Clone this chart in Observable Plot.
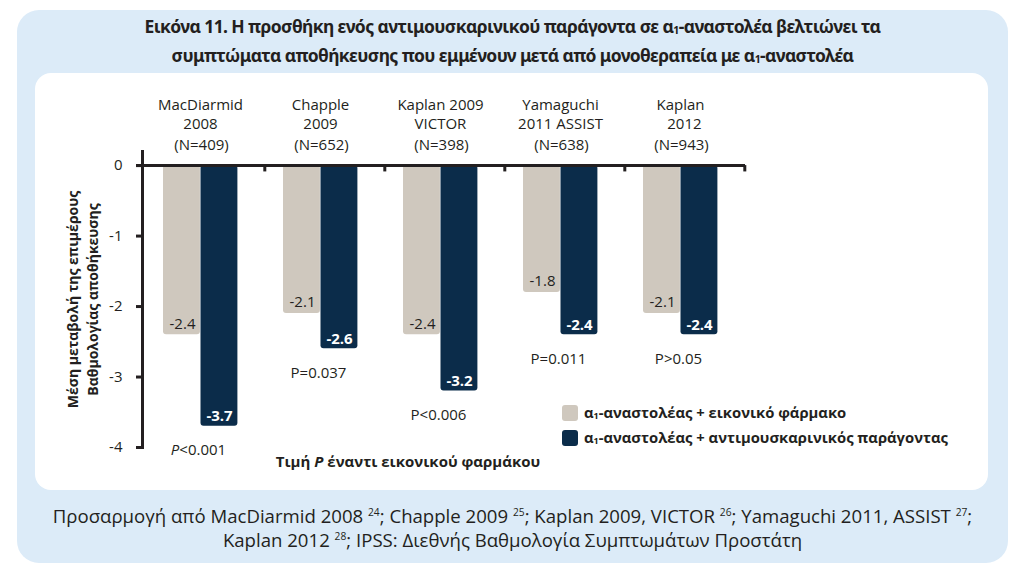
<!DOCTYPE html>
<html>
<head>
<meta charset="utf-8">
<script src="https://cdn.jsdelivr.net/npm/d3@7"></script>
<script src="https://cdn.jsdelivr.net/npm/@observablehq/plot@0.6"></script>
<style>
  html, body { margin: 0; padding: 0; background: #ffffff; }
  body { width: 1030px; height: 574px; position: relative; overflow: hidden; font-family: "Open Sans", sans-serif; color: #231f20; }
  #outer { position: absolute; left: 17px; top: 10px; width: 991px; height: 553px; border-radius: 22px; background: #dcebf8; }
  #inner { position: absolute; left: 35px; top: 73px; width: 953px; height: 417px; border-radius: 16px; background: #ffffff; }
  #title { position: absolute; left: 17px; width: 991px; top: 12px; text-align: center; font-family: "Noto Sans", sans-serif; font-weight: 700; font-size: 17.5px; line-height: 29px; letter-spacing: -0.6px; }
  #footer { position: absolute; left: 17px; width: 991px; top: 504px; text-align: center; font-family: "Open Sans", sans-serif; font-size: 18.6px; line-height: 24px; letter-spacing: 0px; }
  sub { font-size: 0.6em; vertical-align: -0.1em; line-height: 0; }
  sup { font-size: 0.55em; vertical-align: 0.65em; line-height: 0; }
  #chart { position: absolute; left: 0; top: 0; }
  #legend { position: absolute; left: 562px; top: 400px; font-family: "Open Sans", sans-serif; font-weight: 700; font-size: 14.8px; line-height: 25px; }
  .item { display: flex; align-items: center; white-space: nowrap; }
  .sw { width: 16px; height: 16px; border-radius: 3px; margin-right: 6px; }
</style>
</head>
<body>
<div id="outer"></div>
<div id="inner"></div>
<div id="title"></div>
<div id="chart"></div>
<div id="legend"></div>
<div id="footer"></div>
<script>
// ---- data ----
const studies = ["MacDiarmid\n2008", "Chapple\n2009", "Kaplan 2009\nVICTOR", "Yamaguchi\n2011 ASSIST", "Kaplan\n  2012"];
const sampleSizes = ["(N=409)", "(N=652)", "(N=398)", "(N=638)", "(N=943)"];
const placebo = [-2.4, -2.1, -2.4, -1.8, -2.1];
const antimuscarinic = [-3.7, -2.6, -3.2, -2.4, -2.4];
const pValues = ["P<0.001", "P=0.037", "P<0.006", "P=0.011", "P>0.05"];
const yTicks = [0, -1, -2, -3, -4];
const seriesNames = ["α<sub>1</sub>-αναστολέας + εικονικό φάρμακο", "α<sub>1</sub>-αναστολέας + αντιμουσκαρινικός παράγοντας"];
const seriesColors = ["#cfc8be", "#0b2c4a"];
const yTitle = "Μέση μεταβολή της επιμέρους\nΒαθμολογίας αποθήκευσης";
const xTitle = "Τιμή P έναντι εικονικού φαρμάκου";
const titleLines = ["Εικόνα 11. Η προσθήκη ενός αντιμουσκαρινικού παράγοντα σε α<sub>1</sub>-αναστολέα βελτιώνει τα",
                    "συμπτώματα αποθήκευσης που εμμένουν μετά από μονοθεραπεία με α<sub>1</sub>-αναστολέα"];
const footerLines = ["Προσαρμογή από MacDiarmid 2008 <sup>24</sup>; Chapple 2009 <sup>25</sup>; Kaplan 2009, VICTOR <sup>26</sup>; Yamaguchi 2011, ASSIST <sup>27</sup>;",
                     "Kaplan 2012 <sup>28</sup>; IPSS: Διεθνής Βαθμολογία Συμπτωμάτων Προστάτη"];

// ---- tables ----
const rows = studies.map((s, i) => ({study: s, n: sampleSizes[i], placebo: placebo[i], combo: antimuscarinic[i], p: pValues[i]}));
const placeboRows = rows.map(d => ({study: d.study, value: d.placebo}));
const comboRows = rows.map(d => ({study: d.study, value: d.combo}));

// ---- layout ----
const W = 1030, H = 500, mL = 142, mR = 285, mT = 151, mB = 53;
const band = (W - mL - mR) / studies.length;
const ink = "#231f20";

const chart = Plot.plot({
  width: W, height: H,
  marginLeft: mL, marginRight: mR, marginTop: mT, marginBottom: mB,
  style: {background: "transparent", fontFamily: "Open Sans, sans-serif", color: ink},
  x: {type: "band", domain: studies, padding: 0, axis: null},
  y: {domain: [-4, 0.2], axis: null},
  marks: [
    Plot.barY(placeboRows, {x: "study", y: "value", fill: seriesColors[0], insetLeft: 19, insetRight: band - 56.5, rx: 3}),
    Plot.barY(comboRows, {x: "study", y: "value", fill: seriesColors[1], insetLeft: 56.5, insetRight: band - 94, rx: 3}),
    Plot.ruleY([0], {stroke: ink, strokeWidth: 3, insetLeft: -6}),
    Plot.ruleX(studies, {x: d => d, y1: 0, y2: -0.09, dx: band / 2, stroke: ink, strokeWidth: 3}),
    Plot.frame({anchor: "left", stroke: ink, strokeWidth: 3}),
    Plot.axisY(yTicks, {tickSize: 6, tickPadding: 14, stroke: ink, strokeWidth: 3, fill: ink, fontSize: 15, tickFormat: d => String(d), label: null}),
    Plot.text(placeboRows, {x: "study", y: "value", text: d => d.value.toFixed(1), dx: -22, dy: -11, fill: ink, fontSize: 15}),
    Plot.text(comboRows, {x: "study", y: "value", text: d => d.value.toFixed(1), dx: 15, dy: -10, fill: "white", fontWeight: "bold", fontSize: 15}),
    Plot.text(rows, {x: "study", y: () => 0, text: "study", lineAnchor: "middle", lineHeight: 1.27, dx: -4, dy: -52, fill: ink, fontSize: 15}),
    Plot.text(rows, {x: "study", y: () => 0, text: "n", lineAnchor: "middle", dx: -3, dy: -20, fill: ink, fontSize: 15}),
    Plot.text(rows, {x: "study", y: d => Math.min(d.placebo, d.combo), text: "p", lineAnchor: "middle", dx: -6, dy: 24, fill: ink, fontSize: 15}),
    Plot.text([yTitle], {frameAnchor: "left", textAnchor: "middle", rotate: -90, dx: -61, text: d => d, lineAnchor: "middle", lineHeight: 1.4, fontWeight: "bold", fontSize: 14, fill: ink}),
    Plot.text([xTitle], {frameAnchor: "bottom", dx: -36, dy: 15, text: d => d, lineAnchor: "middle", fontWeight: "bold", fontSize: 15, fill: ink})
  ]
});

// italic P where the reference uses it
d3.select(chart).selectAll("text").each(function() {
  const el = d3.select(this);
  const t = el.text();
  if (t === pValues[0] || t === xTitle) {
    const idx = t.indexOf("P");
    el.text(null);
    el.append("tspan").text(t.slice(0, idx));
    el.append("tspan").attr("font-style", "italic").text("P");
    el.append("tspan").text(t.slice(idx + 1));
  }
});

document.getElementById("chart").appendChild(chart);
document.getElementById("title").innerHTML = titleLines.join("<br>");
document.getElementById("footer").innerHTML = footerLines.join("<br>");
document.getElementById("legend").innerHTML = seriesNames.map((n, i) =>
  `<div class="item"><div class="sw" style="background:${seriesColors[i]}"></div><span>${n}</span></div>`).join("");
</script>
</body>
</html>
